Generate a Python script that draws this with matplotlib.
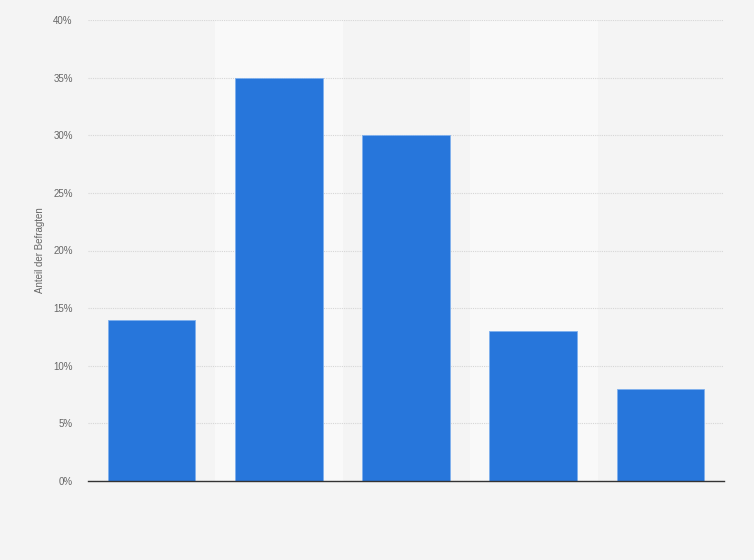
import matplotlib.pyplot as plt
import numpy as np

# data
categories = ['1', '2', '3', '4', '5']
shares = [14, 35, 30, 13, 8]
yticks = [0, 5, 10, 15, 20, 25, 30, 35, 40]

plt.rcParams['font.family'] = ['Liberation Sans', 'DejaVu Sans']

fig = plt.figure(figsize=(7.54, 5.6), dpi=100)
fig.patch.set_facecolor('#f4f4f4')
ax = fig.add_axes([88/754, 1-481/560, 636/754, 461/560])
ax.set_facecolor('#f4f4f4')

x = np.arange(len(categories))
## alternating light bands behind every second bar
for i in x:
    if i % 2 == 1:
        ax.axvspan(i-0.5, i+0.5, color='#f9f9f9', zorder=0)

ax.bar(x, shares, width=0.69, color='#2776db', edgecolor='#7fb0ee', linewidth=0.6, zorder=3)

ax.set_xlim(-0.5, len(categories)-0.5)
ax.set_ylim(0, 40)
ax.set_yticks(yticks)
ax.set_yticklabels([f'{t}%' for t in yticks], fontsize=7, color='#666666')
ax.set_xticks([])
ax.yaxis.grid(True, linestyle=(0, (1, 1)), color='#d6d6d6', linewidth=0.8, zorder=1)
ax.tick_params(axis='y', length=0, pad=11)

for side in ['top', 'right', 'left']:
    ax.spines[side].set_visible(False)
ax.spines['bottom'].set_color('#333333')
ax.spines['bottom'].set_linewidth(1.0)
ax.spines['bottom'].set_zorder(4)

ax.set_ylabel('Anteil der Befragten', fontsize=7, color='#666666')
ax.yaxis.set_label_coords(-43/636, 0.5)

fig.savefig('out.png', dpi=100, facecolor=fig.get_facecolor())
